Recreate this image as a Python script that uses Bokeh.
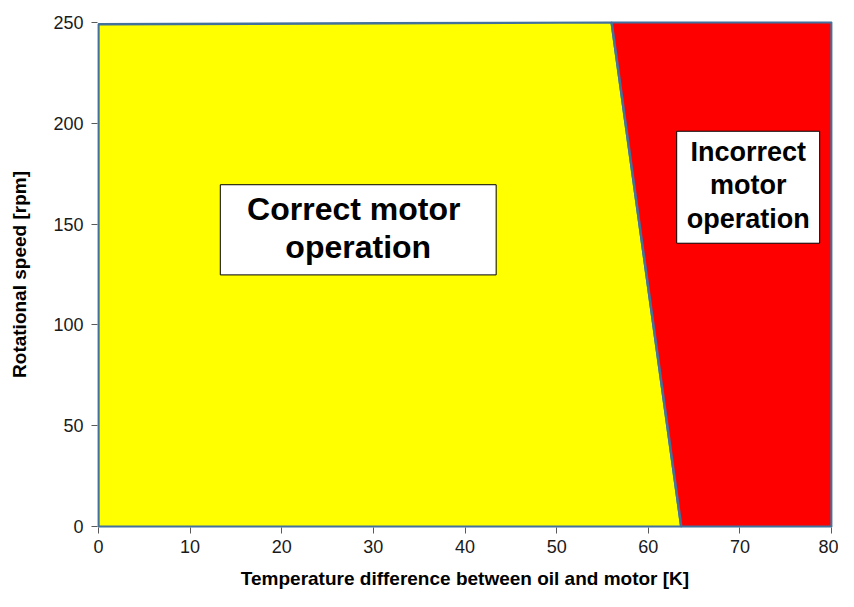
from bokeh.plotting import figure
from bokeh.models import Range1d, FixedTicker
from bokeh.core.properties import value
from bokeh.embed import file_html
from bokeh.resources import INLINE

# Region boundaries (temperature difference [K], rotational speed [rpm])
correct_x = [0, 0, 56, 63.6]
correct_y = [0, 249, 250, 0]
incorrect_x = [56, 80, 80, 63.6]
incorrect_y = [250, 250, 0, 0]

x_ticks = [0, 10, 20, 30, 40, 50, 60, 70, 80]
y_ticks = [0, 50, 100, 150, 200, 250]

correct_label = ["Correct  motor", "operation"]
incorrect_label = ["Incorrect", "motor", "operation"]

FONT = "Liberation Sans"
EDGE = "#41719C"

p = figure(width=838, height=591, output_backend="svg", toolbar_location=None,
           x_range=Range1d(-0.1, 80.1), y_range=Range1d(-0.4, 250.4),
           min_border_left=97, min_border_right=6, min_border_top=21, min_border_bottom=64)

p.patch(correct_x, correct_y, fill_color="#FFFF00", line_color=EDGE, line_width=2.5)
p.patch(incorrect_x, incorrect_y, fill_color="#FF0000", line_color=EDGE, line_width=2.5)

# text boxes
p.quad(left=[13.3], right=[43.4], bottom=[124.8], top=[169.5],
       fill_color="white", line_color="black", line_width=1)
p.quad(left=[63.1], right=[78.7], bottom=[140.5], top=[196.0],
       fill_color="white", line_color="black", line_width=1)

p.text(x=[28.35, 28.35], y=[157.5, 138.8], text=correct_label,
       text_font=value(FONT), text_font_style="bold", text_font_size="32px",
       text_align="center", text_baseline="middle", text_color="black")
p.text(x=[70.9, 70.9, 70.9], y=[185.8, 169.2, 152.6], text=incorrect_label,
       text_font=value(FONT), text_font_style="bold", text_font_size="27px",
       text_align="center", text_baseline="middle", text_color="black")

p.xgrid.visible = False
p.ygrid.visible = False
p.outline_line_color = None
p.background_fill_color = "white"

p.xaxis.ticker = FixedTicker(ticks=x_ticks)
p.yaxis.ticker = FixedTicker(ticks=y_ticks)
p.xaxis.axis_label = "Temperature difference between oil and motor [K]"
p.yaxis.axis_label = "Rotational speed [rpm]"

for ax in (p.xaxis[0], p.yaxis[0]):
    ax.axis_line_color = None
    ax.major_tick_in = 0
    ax.major_tick_out = 6
    ax.major_tick_line_color = "#595959"
    ax.minor_tick_line_color = None
    ax.major_label_text_font = FONT
    ax.major_label_text_font_size = "18px"
    ax.major_label_text_color = "#1a1a1a"
    ax.axis_label_text_font = FONT
    ax.axis_label_text_font_style = "bold"
    ax.axis_label_text_font_size = "19px"
    ax.axis_label_text_color = "black"

p.xaxis.major_label_standoff = 6
p.xaxis.axis_label_standoff = 12
p.yaxis.major_label_standoff = 8
p.yaxis.axis_label_standoff = 20

open("out.html", "w").write(file_html(p, INLINE))
